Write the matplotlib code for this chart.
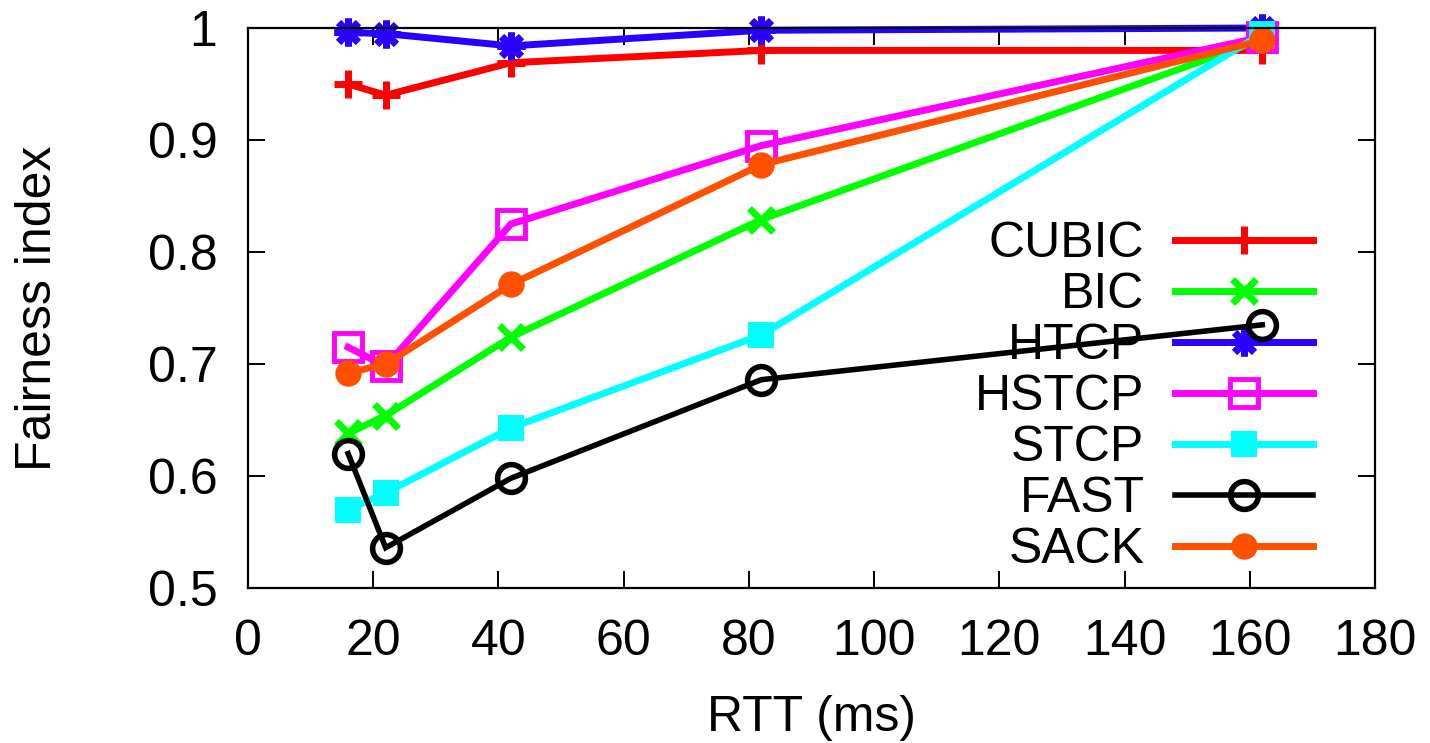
import matplotlib
matplotlib.use("Agg")
import matplotlib.pyplot as plt

# RTT values (ms) and Jain's fairness index per congestion-control variant
rtt = [16, 22, 42, 82, 162]
cubic = [0.950, 0.940, 0.969, 0.980, 0.980]
bic = [0.638, 0.654, 0.724, 0.829, 0.990]
htcp = [0.996, 0.995, 0.984, 0.998, 1.000]
hstcp = [0.715, 0.698, 0.825, 0.895, 0.992]
stcp = [0.570, 0.585, 0.643, 0.726, 0.995]
fast = [0.620, 0.536, 0.598, 0.686, 0.735]
sack = [0.692, 0.700, 0.771, 0.878, 0.989]

labels = ["CUBIC", "BIC", "HTCP", "HSTCP", "STCP", "FAST", "SACK"]
xticks = [0, 20, 40, 60, 80, 100, 120, 140, 160, 180]
yticks = [0.5, 0.6, 0.7, 0.8, 0.9, 1.0]
ytick_labels = ["0.5", "0.6", "0.7", "0.8", "0.9", "1"]

plt.rcParams["font.family"] = ["Liberation Sans", "DejaVu Sans"]
FS = 36

fig = plt.figure(figsize=(14.30, 7.43), dpi=100)
ax = fig.add_axes([0.1734, 0.2086, 0.7881, 0.7537])

styles = [
    dict(color="#ff0000", marker="+", ms=20, mew=5),
    dict(color="#00ff00", marker="x", ms=17, mew=5),
    dict(color="#2a00ff", marker=(8, 2, 0), ms=20, mew=5),
    dict(color="#ff00ff", marker="s", ms=20, mew=3.5, mfc="none"),
    dict(color="#00ffff", marker="s", ms=19, mew=0),
    dict(color="#000000", marker="o", ms=20, mew=4, mfc="none"),
    dict(color="#ff5000", marker="o", ms=19, mew=0),
]
series = [cubic, bic, htcp, hstcp, stcp, fast, sack]

for lab, ys, st in zip(labels, series, styles):
    lw = 4.0 if lab == "FAST" else 5.0
    ax.plot(rtt, ys, label=lab, lw=lw, clip_on=False, solid_joinstyle="miter",
            **st)

ax.set_xlim(0, 180)
ax.set_ylim(0.5, 1.0)
ax.set_xticks(xticks)
ax.set_yticks(yticks)
ax.set_yticklabels(ytick_labels)
ax.tick_params(direction="in", length=12, width=1.4, top=True, right=True,
               labelsize=FS)
ax.tick_params(axis="x", pad=22)
ax.tick_params(axis="y", pad=22)
for sp in ax.spines.values():
    sp.set_linewidth(1.6)

ax.set_xlabel("RTT (ms)", fontsize=FS)
ax.set_ylabel("Fairness index", fontsize=FS)
ax.xaxis.set_label_coords(0.5, -0.191)
ax.yaxis.set_label_coords(-0.166, 0.5)

leg = ax.legend(loc="upper right", bbox_to_anchor=(0.945, 0.655),
                frameon=False, markerfirst=False, fontsize=FS,
                handlelength=2.75, handletextpad=0.62, labelspacing=0.1,
                borderaxespad=0, borderpad=0)
leg.set_zorder(1)

fig.savefig("out.png", dpi=100)
